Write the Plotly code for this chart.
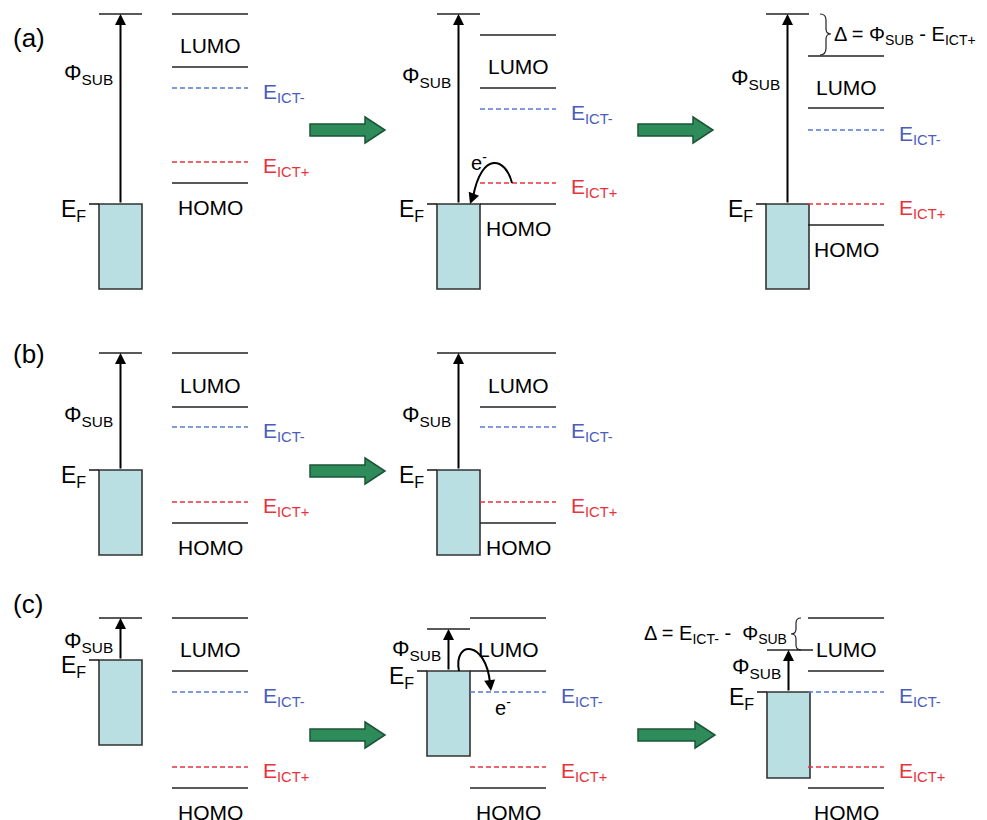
import plotly.graph_objects as go

# ---- data: energy levels per panel (diagram units, y grows downward) ----
panels = ["a1", "a2", "a3", "b1", "b2", "c1", "c2", "c3"]
box_left = [99, 437, 766, 99, 437, 99, 427, 767]
box_bottom = [289, 289, 289, 555, 555, 745, 756, 778]
vac_y = [14, 14, 14, 353, 353, 618, 629, 650]
ef_y = [204, 204, 204, 470, 470, 660, 671, 692]
mol_left = [172, 480, 808, 172, 480, 172, 470, 808]
lumo_top = [14, 35, 56, 353, 353, 618, 618, 618]
lumo_bot = [67, 88, 108, 407, 407, 671, 671, 671]
ict_minus = [88, 109, 130, 427, 427, 692, 692, 692]
ict_plus = [162, 183, 204, 502, 502, 767, 767, 767]
homo = [183, 204, 225, 523, 523, 788, 788, 788]
phi_label_y = [74, 77, 79, 416, 416, 642, 650, 668]

panel_labels = ["(a)", "(b)", "(c)"]
panel_label_y = [38, 354, 604]

# transition arrows (x start, x end, y)
flow_x0 = [310, 638, 310, 310, 638]
flow_x1 = [385, 713, 385, 385, 715]
flow_y = [130, 130, 471, 735, 735]

BOX_W = 43
MOL_W = 76
FONT = "Liberation Sans, Arial, sans-serif"
LINE = "#222222"
BLUE_LINE = "#5a78d0"
BLUE_TXT = "#4a5dbb"
RED = "#e8333c"

fig = go.Figure()
shapes = []
ann = []


def hline(x0, x1, y, color=LINE, dash="solid", w=1.6):
    shapes.append(dict(type="line", x0=x0, x1=x1, y0=y, y1=y, xref="x", yref="y",
                       line=dict(color=color, width=w, dash=dash)))


def text(x, y, t, size=21, color="black", xa="center", ya="middle"):
    ann.append(dict(x=x, y=y, text=t, showarrow=False, xref="x", yref="y",
                    xanchor=xa, yanchor=ya, font=dict(family=FONT, size=size, color=color)))


for i, p in enumerate(panels):
    bx0 = box_left[i]
    bx1 = bx0 + BOX_W
    ax_x = bx0 + 21.5
    mx0 = mol_left[i]
    mx1 = mx0 + MOL_W
    # metal box
    shapes.append(dict(type="rect", x0=bx0, x1=bx1, y0=ef_y[i], y1=box_bottom[i], xref="x", yref="y",
                       fillcolor="#b9dfe3", line=dict(color="#333333", width=1.6)))
    # Fermi tick
    hline(bx0 - 10, bx0, ef_y[i])
    # vacuum level
    hline(bx0, bx1 + (3 if p == "c3" else 0), vac_y[i])
    # work function arrow
    ann.append(dict(x=ax_x, y=vac_y[i], ax=ax_x, ay=ef_y[i], axref="x", ayref="y", xref="x", yref="y",
                    text="", showarrow=True, arrowhead=2, arrowsize=1.1, arrowwidth=2,
                    arrowcolor="black", standoff=0, startstandoff=0))
    text(ax_x - 6, phi_label_y[i], "Φ<sub>SUB</sub>", size=22, xa="right")
    text(bx0 - 11, ef_y[i] + 6, "E<sub>F</sub>", size=23, xa="right")
    # molecular levels
    hline(mx0, mx1, lumo_top[i])
    hline(mx0, mx1, lumo_bot[i])
    hline(mx0, mx1, homo[i])
    hline(mx0, mx1, ict_minus[i], color=BLUE_LINE, dash="5px,3px", w=1.6)
    hline(mx0, mx1, ict_plus[i], color=RED, dash="5px,3px", w=1.6)
    text((mx0 + mx1) / 2, (lumo_top[i] + lumo_bot[i]) / 2 + 5, "LUMO")
    text((mx0 + mx1) / 2, homo[i] + 24, "HOMO")
    text(mx1 + 13, ict_minus[i] + 5, "E<sub>ICT-</sub>", color=BLUE_TXT, xa="left")
    text(mx1 + 13, ict_plus[i] + 5, "E<sub>ICT+</sub>", color=RED, xa="left")

for lab, ly in zip(panel_labels, panel_label_y):
    text(11, ly, lab, size=26, xa="left")

# green transition arrows
for x0, x1, y in zip(flow_x0, flow_x1, flow_y):
    hl = 20
    path = (f"M {x0},{y-6} L {x1-hl},{y-6} L {x1-hl},{y-13} L {x1},{y} "
            f"L {x1-hl},{y+13} L {x1-hl},{y+6} L {x0},{y+6} Z")
    shapes.append(dict(type="path", path=path, xref="x", yref="y",
                       fillcolor="#2e8b5a", line=dict(color="#1d5438", width=1.5)))

# electron transfer curves
shapes.append(dict(type="path", path="M 512,183 C 506,158 482,150 473,197", xref="x", yref="y",
                   line=dict(color="black", width=2)))
ann.append(dict(x=470, y=204, ax=473, ay=196, axref="x", ayref="y", xref="x", yref="y", text="",
                showarrow=True, arrowhead=2, arrowsize=1.1, arrowwidth=2, arrowcolor="black", standoff=0))
text(479, 161, "e<sup>-</sup>", size=20)

shapes.append(dict(type="path", path="M 459,671 C 453,640 486,640 490,683", xref="x", yref="y",
                   line=dict(color="black", width=2)))
ann.append(dict(x=491, y=691, ax=490, ay=683, axref="x", ayref="y", xref="x", yref="y", text="",
                showarrow=True, arrowhead=2, arrowsize=1.1, arrowwidth=2, arrowcolor="black", standoff=0))
text(503, 706, "e<sup>-</sup>", size=20)

# braces and offset labels
shapes.append(dict(type="path",
                   path="M 820,14 Q 826,14 826,20 L 826,29 Q 826,34 831,34 Q 826,34 826,39 L 826,48 Q 826,55 820,55",
                   xref="x", yref="y", line=dict(color="#222222", width=1.2)))
text(832, 35, "Δ = Φ<sub>SUB</sub> - E<sub>ICT+</sub>", size=20, xa="left")

shapes.append(dict(type="path",
                   path="M 801,618 Q 796,618 796,623 L 796,629 Q 796,634 791,634 Q 796,634 796,639 L 796,645 Q 796,650 801,650",
                   xref="x", yref="y", line=dict(color="#222222", width=1.2)))
text(789, 634, "Δ = E<sub>ICT-</sub> -  Φ<sub>SUB</sub>", size=20, xa="right")

fig.update_layout(
    width=987, height=820, margin=dict(l=0, r=0, t=0, b=0),
    paper_bgcolor="white", plot_bgcolor="white", showlegend=False,
    xaxis=dict(range=[0, 987], visible=False, fixedrange=True),
    yaxis=dict(range=[820, 0], visible=False, fixedrange=True),
    shapes=shapes, annotations=ann,
)

fig.write_html("out.html", post_script="document.body.style.margin='0';", config={"displayModeBar": False})
